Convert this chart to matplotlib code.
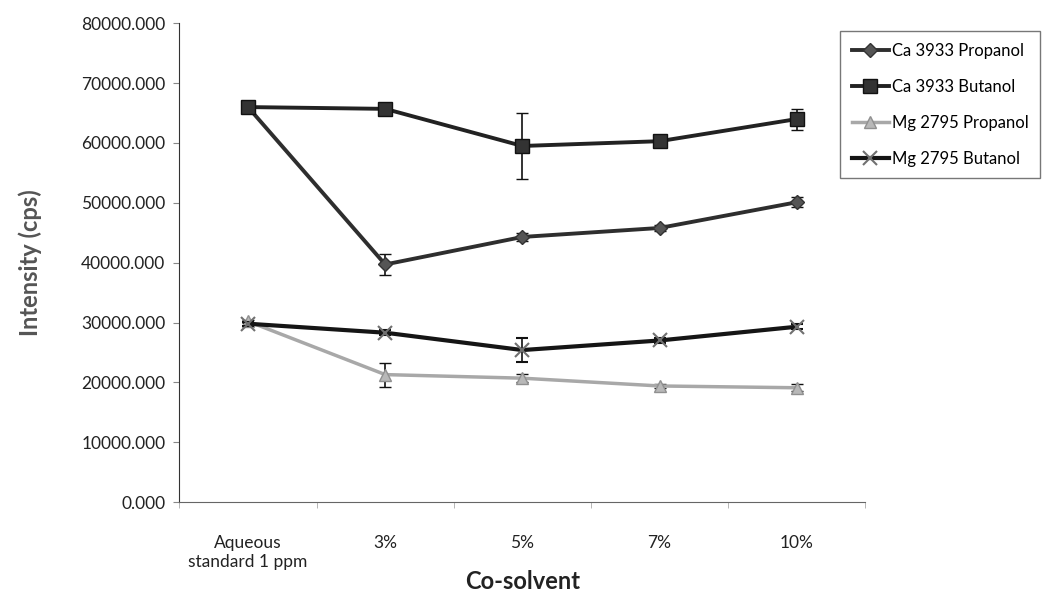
import matplotlib
matplotlib.use("Agg")
import matplotlib.pyplot as plt
from matplotlib.lines import Line2D
from matplotlib.ticker import FormatStrFormatter, FixedLocator

plt.rcParams['font.family'] = ['Lato', 'DejaVu Sans']

categories = ['Aqueous\nstandard 1 ppm', '3%', '5%', '7%', '10%']

ca_propanol = [66000, 39700, 44300, 45800, 50100]
ca_propanol_err = [300, 1800, 700, 500, 800]
ca_butanol = [66000, 65700, 59500, 60300, 64000]
ca_butanol_err = [400, 700, 5500, 600, 1750]
mg_propanol = [30200, 21300, 20700, 19400, 19100]
mg_propanol_err = [300, 2000, 700, 400, 600]
mg_butanol = [29800, 28300, 25400, 27000, 29300]
mg_butanol_err = [300, 400, 2000, 400, 400]

x = list(range(len(categories)))

# style per series: line colour, width, marker, size, face, edge
styles = {
    'Ca 3933 Propanol': dict(color='#2e2e2e', lw=2.8, marker='D', ms=7, mfc='#555555', mec='#333333'),
    'Ca 3933 Butanol': dict(color='#222222', lw=2.8, marker='s', ms=10, mfc='#333333', mec='#111111'),
    'Mg 2795 Propanol': dict(color='#a8a8a8', lw=2.5, marker='^', ms=8, mfc='#b8b8b8', mec='#909090'),
    'Mg 2795 Butanol': dict(color='#151515', lw=3, marker='x', ms=10, mew=1.5, mec='#707070'),
}

fig = plt.figure(figsize=(10.49, 5.97), dpi=100)
ax = fig.add_axes([0.171, 0.159, 0.654, 0.802])

series = [
    ('Mg 2795 Propanol', mg_propanol, mg_propanol_err, 2),
    ('Mg 2795 Butanol', mg_butanol, mg_butanol_err, 3),
    ('Ca 3933 Propanol', ca_propanol, ca_propanol_err, 4),
    ('Ca 3933 Butanol', ca_butanol, ca_butanol_err, 5),
]
for name, vals, err, z in series:
    ax.errorbar(x, vals, yerr=err, ecolor='#111111', elinewidth=1.2, capsize=4,
                zorder=z, **styles[name])

ax.set_xlim(-0.5, 4.5)
ax.set_ylim(0, 80000)
ax.set_yticks(range(0, 80001, 10000))
ax.yaxis.set_major_formatter(FormatStrFormatter('%.3f'))
ax.set_xticks(x)
ax.set_xticklabels(categories, fontsize=12.5, color='#222222')
ax.xaxis.set_minor_locator(FixedLocator([-0.5, 0.5, 1.5, 2.5, 3.5, 4.5]))
ax.tick_params(axis='x', which='major', length=0, pad=24)
ax.tick_params(axis='x', which='minor', length=4, color='#aaaaaa')
ax.tick_params(axis='y', labelsize=12.5, length=4, color='#888888', labelcolor='#222222', pad=6)

for s in ['top', 'right']:
    ax.spines[s].set_visible(False)
ax.spines['left'].set_color('#333333')
ax.spines['bottom'].set_color('#666666')

ax.set_ylabel('Intensity (cps)', fontsize=17, fontweight='bold', color='#555555', labelpad=28)
ax.set_xlabel('Co-solvent', fontsize=17, fontweight='bold', color='#222222', labelpad=0)

legend_order = ['Ca 3933 Propanol', 'Ca 3933 Butanol', 'Mg 2795 Propanol', 'Mg 2795 Butanol']
handles = [Line2D([], [], **styles[n]) for n in legend_order]
leg = fig.legend(handles, legend_order,
                 loc='upper left', bbox_to_anchor=(0.793, 0.962), fontsize=12,
                 frameon=True, fancybox=False, edgecolor='#555555',
                 handlelength=2.2, handletextpad=0.2, labelspacing=1.2,
                 borderpad=0.7)
leg.get_frame().set_linewidth(1.0)

fig.savefig('out.png', dpi=100)
